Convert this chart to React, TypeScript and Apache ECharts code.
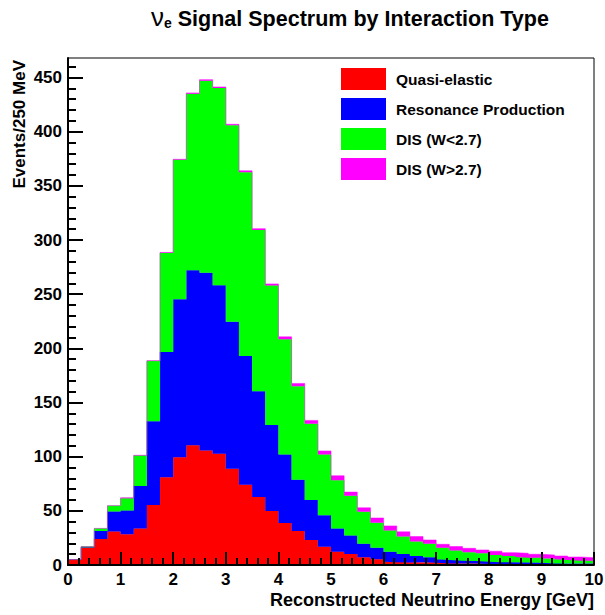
import React, { useEffect, useRef } from "react";
import * as echarts from "echarts";

// Bin edges (GeV): 40 bins of 0.25 GeV from 0 to 10
const binEdges: string[] = Array.from({ length: 41 }, (_, i) => (i * 0.25).toFixed(2));

const quasiElastic: number[] = [
  5, 16, 24, 31, 28.5, 33.6, 55.5, 81, 99.4, 110.5,
  105.6, 102.8, 88.8, 74.1, 62.7, 49.8, 38.8, 31.5, 23.1, 16.8,
  12.3, 10.2, 7.1, 5.2, 3.1, 2.5, 2.2, 2.6, 2.1, 1.5,
  1.5, 1.3, 1, 0.8, 0.8, 0.7, 0.6, 0.5, 0.5, 0.4,
];
const resonance: number[] = [
  0, 0.5, 7.5, 18.4, 21.8, 39.4, 77.2, 115.6, 146, 161.5,
  164.1, 155.5, 135.7, 118.8, 97.6, 79.4, 63.1, 47.2, 36.9, 29.2,
  21.5, 17.1, 12.6, 10.7, 9.2, 7.7, 6.1, 4.5, 3.1, 3.1,
  2.5, 2.4, 2.1, 1.7, 1.7, 1.5, 1.4, 1, 1, 0.9,
];
const disLow: number[] = [
  0, 0.5, 2.1, 5.2, 11.4, 28, 55.6, 91.4, 128.6, 163,
  177.3, 182.1, 181.4, 169.7, 149, 128.8, 106.4, 86.4, 70.4, 55.9,
  44.4, 36.6, 29.5, 23, 19.5, 16, 13.3, 12.6, 10.8, 8.7,
  7.7, 7.1, 6.2, 5.8, 4.9, 4.6, 3.9, 3.7, 3.1, 2.7,
];
const disHigh: number[] = [
  0, 0, 0.2, 0.2, 0.3, 0.3, 0.3, 0.5, 0.5, 0.8,
  1, 0.9, 0.9, 1.3, 1.2, 1.5, 2.3, 2.5, 3.1, 3.4,
  4.2, 3.4, 3.6, 4.5, 4.3, 4.4, 4.6, 3.4, 3.1, 3.7,
  3.7, 3.1, 3.4, 3.1, 3.4, 3.1, 3.4, 3.1, 2.8, 2.8,
];

const seriesNames = ["Quasi-elastic", "Resonance Production", "DIS (W<2.7)", "DIS (W>2.7)"];
const seriesColors = ["#ff0000", "#0000ff", "#00ff00", "#ff00ff"];

const yMajorTicks: number[] = [0, 50, 100, 150, 200, 250, 300, 350, 400, 450];
const yMinorTicks: number[] = [
  10, 20, 30, 40, 60, 70, 80, 90, 110, 120, 130, 140, 160, 170, 180, 190,
  210, 220, 230, 240, 260, 270, 280, 290, 310, 320, 330, 340, 360, 370, 380, 390,
  410, 420, 430, 440, 460,
];

const FONT = "'Liberation Sans', Arial, Helvetica, sans-serif";

// Histogram drawn as a step line on the bin edges: each value starts at its low edge,
// and the last value is held up to the upper edge of the range.
function toSteps(values: number[]): number[] {
  return [...values, values[values.length - 1]];
}

export default function App() {
  const ref = useRef<HTMLDivElement>(null);

  useEffect(() => {
    if (!ref.current) return;
    const chart = echarts.init(ref.current, undefined, { renderer: "svg" });
    const values = [quasiElastic, resonance, disLow, disHigh];

    const option: any = {
      animation: false,
      backgroundColor: "#ffffff",
      title: {
        left: 151,
        top: 0,
        padding: 0,
        text: "{nu|ν}{e|e}{t| Signal Spectrum by Interaction Type}",
        textStyle: {
          fontSize: 21.5,
          fontWeight: "bold",
          fontFamily: FONT,
          color: "#000",
          rich: {
            nu: { fontSize: 26, fontWeight: "normal", fontFamily: FONT, color: "#000", lineHeight: 30, verticalAlign: "bottom" },
            e: { fontSize: 14, fontWeight: "bold", fontFamily: FONT, color: "#000", lineHeight: 14, verticalAlign: "bottom" },
            t: { fontSize: 21.5, fontWeight: "bold", fontFamily: FONT, color: "#000", lineHeight: 30, verticalAlign: "bottom" },
          },
        },
      },
      legend: {
        orient: "vertical",
        left: 341,
        top: 68,
        padding: 0,
        itemWidth: 45,
        itemHeight: 22,
        itemGap: 8,
        selectedMode: false,
        icon: "rect",
        data: seriesNames,
        itemStyle: { borderWidth: 0 },
        textStyle: {
          fontSize: 15.5,
          fontWeight: "bold",
          fontFamily: FONT,
          color: "#000",
          padding: [0, 0, 0, 5],
        },
      },
      grid: {
        left: 68,
        right: 11,
        top: 58,
        bottom: 50,
        outerBoundsMode: "none",
        containLabel: false,
        show: true,
        borderColor: "#000",
        borderWidth: 1,
        backgroundColor: "transparent",
      },
      xAxis: [
        {
          type: "category",
          data: binEdges,
          boundaryGap: false,
          show: false,
        },
        {
          type: "value",
          min: 0,
          max: 10,
          interval: 1,
          position: "bottom",
          z: 10,
          axisLine: { show: true, onZero: false, lineStyle: { color: "#000", width: 2 } },
          axisTick: { show: true, inside: true, length: 13, lineStyle: { color: "#000", width: 2 } },
          minorTick: { show: true, splitNumber: 5, length: 7, lineStyle: { color: "#000", width: 2 } },
          splitLine: { show: false },
          axisLabel: {
            show: true,
            margin: 6,
            fontSize: 17,
            fontWeight: "bold",
            fontFamily: FONT,
            color: "#000",
          },
        },
      ],
      yAxis: [
        {
          type: "value",
          min: 0,
          max: 468,
          position: "left",
          z: 10,
          axisLine: { show: true, onZero: false, lineStyle: { color: "#000", width: 2 } },
          axisTick: { show: true, inside: true, length: 15, customValues: yMajorTicks, lineStyle: { color: "#000", width: 2 } },
          splitLine: { show: false },
          axisLabel: {
            show: true,
            customValues: yMajorTicks,
            margin: 6,
            fontSize: 17,
            fontWeight: "bold",
            fontFamily: FONT,
            color: "#000",
          },
        },
        {
          type: "value",
          min: 0,
          max: 468,
          position: "left",
          z: 10,
          axisLine: { show: false },
          axisTick: { show: true, inside: true, length: 8, customValues: yMinorTicks, lineStyle: { color: "#000", width: 2 } },
          splitLine: { show: false },
          axisLabel: { show: false },
        },
      ],
      graphic: [
        {
          type: "text",
          x: 19,
          y: 60,
          rotation: Math.PI / 2,
          style: {
            text: "Events/250 MeV",
            fontSize: 17,
            fontWeight: "bold",
            fontFamily: FONT,
            fill: "#000",
            align: "right",
            textAlign: "right",
            verticalAlign: "middle",
            textVerticalAlign: "middle",
          },
        },
        {
          type: "text",
          x: 594,
          y: 600,
          style: {
            text: "Reconstructed Neutrino Energy [GeV]",
            fontSize: 18,
            fontWeight: "bold",
            fontFamily: FONT,
            fill: "#000",
            align: "right",
            textAlign: "right",
            verticalAlign: "middle",
            textVerticalAlign: "middle",
          },
        },
      ],
      series: values.map((v, i) => ({
        type: "line",
        name: seriesNames[i],
        xAxisIndex: 0,
        yAxisIndex: 0,
        stack: "all",
        step: "end",
        symbol: "none",
        showSymbol: false,
        data: toSteps(v),
        itemStyle: { color: seriesColors[i] },
        lineStyle: { color: seriesColors[i], width: 0.5 },
        areaStyle: { color: seriesColors[i], opacity: 1 },
        emphasis: { disabled: true },
        z: 2 + i,
      })),
    };

    chart.setOption(option);
    return () => chart.dispose();
  }, []);

  return (
    <div
      ref={ref}
      style={{ position: "absolute", left: 0, top: 0, width: 605, height: 615 }}
    />
  );
}
